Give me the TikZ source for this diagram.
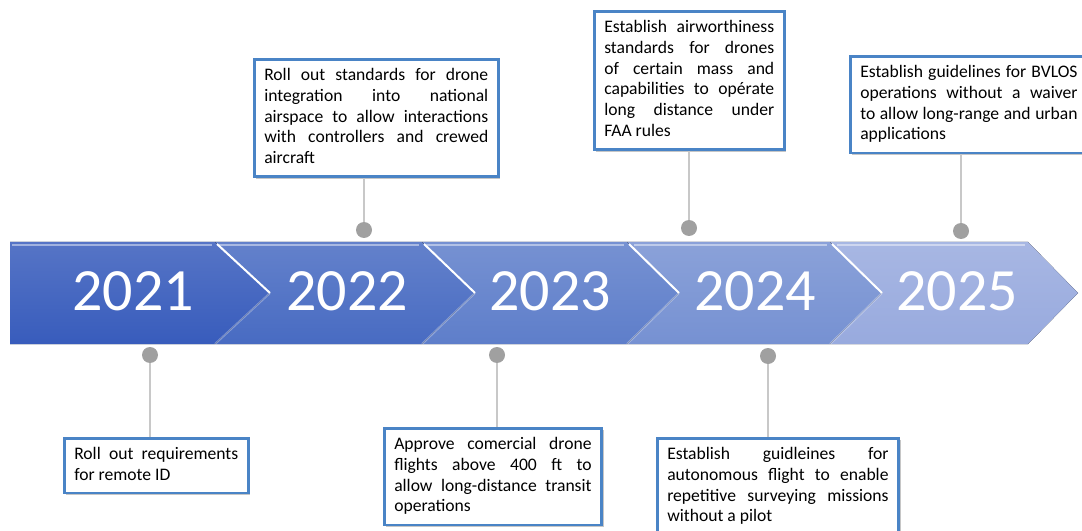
\documentclass[tikz,border=0pt]{standalone}
\usepackage{fontspec}
\setmainfont{Carlito}
\usepackage{xcolor}
\usetikzlibrary{shapes,arrows,shadows,positioning}

\definecolor{segA}{RGB}{56,92,188}
\definecolor{segB}{RGB}{72,107,194}
\definecolor{segC}{RGB}{94,126,202}
\definecolor{segD}{RGB}{118,145,210}
\definecolor{segE}{RGB}{152,170,222}
\definecolor{noteblue}{RGB}{74,132,198}
\definecolor{dotgray}{RGB}{160,160,160}
\definecolor{stemgray}{RGB}{200,200,200}

\newcommand{\notefont}{\fontsize{13.2}{15.6}\selectfont}
\newcommand{\yearfont}{\fontsize{45}{45}\selectfont}

\begin{document}
\begin{tikzpicture}[x=0.75pt, y=-0.75pt]
	% % % % % % % % % % % % % % % % % % % % % % % % % % % % % %
	% Define styles
	\tikzstyle{note} = [rectangle, draw=noteblue, line width=1.9pt, fill=white, anchor=north west,
					    align=justify, inner xsep=7.5pt, inner ysep=5pt, font=\notefont,
					    execute at begin node=\strut, execute at end node=\strut,
					    drop shadow={shadow xshift=1.6pt, shadow yshift=-1.6pt, opacity=0.45, fill=gray}]
	\tikzstyle{year} = [text=white, font=\yearfont, inner sep=0pt]
	\tikzstyle{dot} = [circle, fill=dotgray, minimum size=12pt, inner sep=0pt]
	\tikzstyle{line} = [draw=stemgray, line width=1.1pt]
	\tikzstyle{shine} = [draw=white, line width=1.5pt]

	\path[use as bounding box, clip] (0,0) rectangle (1082,531);

	% % % % % % % % % % % % % % % % % % % % % % % % % % % % % %
	% Chevron band
	\fill[top color=segA!85!white, bottom color=segA] (10,242) -- (215,242) -- (270,293) -- (215,344) -- (10,344) -- cycle;
	\fill[top color=segB!85!white, bottom color=segB] (215,242) -- (422,242) -- (475,293) -- (422,344) -- (215,344) -- (270,293) -- cycle;
	\fill[top color=segC!85!white, bottom color=segC] (422,242) -- (627,242) -- (679,293) -- (627,344) -- (422,344) -- (475,293) -- cycle;
	\fill[top color=segD!85!white, bottom color=segD] (627,242) -- (830,242) -- (882,293) -- (830,344) -- (627,344) -- (679,293) -- cycle;
	\fill[top color=segE!85!white, bottom color=segE] (830,242) -- (1028,242) -- (1078,293) -- (1028,344) -- (830,344) -- (882,293) -- cycle;
	% highlights
	\draw[shine, opacity=0.45] (12,245) -- (212,245) (219,245) -- (419,245) (426,245) -- (624,245) (634,245) -- (827,245) (837,245) -- (1025,245);
	\draw[shine] (217,244) -- (270,293) (424,244) -- (475,293) (629,244) -- (679,293) (832,244) -- (882,293);
	\draw[shine, opacity=0.3] (270,293) -- (215,344) (475,293) -- (422,344) (679,293) -- (627,344) (882,293) -- (830,344);

	% % % % % % % % % % % % % % % % % % % % % % % % % % % % % %
	% Place nodes
	% years
	\node [year] (y21) at (133,291) {2021};
	\node [year] (y22) at (347,291) {2022};
	\node [year] (y23) at (550,291) {2023};
	\node [year] (y24) at (755,291) {2024};
	\node [year] (y25) at (957,291) {2025};

	% milestones above the band
	\node [note, text width=168pt] (nas) at (253,58) {Roll out standards for drone\linebreak integration into national\linebreak airspace to allow interactions\linebreak with controllers and crewed\linebreak aircraft};
	\node [note, text width=127.5pt] (awr) at (593,10) {Establish airworthiness\linebreak standards for drones\linebreak of certain mass and\linebreak capabilities to opérate\linebreak long distance under\linebreak FAA rules};
	\node [note, text width=163pt] (bvl) at (849,55) {Establish guidelines for BVLOS\linebreak operations without a waiver\linebreak to allow long-range and urban\linebreak applications};
	% milestones below the band
	\node [note, text width=123pt] (rid) at (63,437) {Roll out requirements\linebreak for remote ID};
	\node [note, text width=148pt] (cdf) at (383,427) {Approve comercial drone\linebreak flights above 400 ft to\linebreak allow long-distance transit\linebreak operations};
	\node [note, text width=166pt] (aut) at (656,437) {Establish guidleines for\linebreak autonomous flight to enable\linebreak repetitive surveying missions\linebreak without a pilot};

	% pins
	\node [dot] (pnas) at (364,230) {};
	\node [dot] (pawr) at (689,228) {};
	\node [dot] (pbvl) at (961,231) {};
	\node [dot] (prid) at (150,355) {};
	\node [dot] (pcdf) at (497,355) {};
	\node [dot] (paut) at (768,356) {};

	% Draw edges
	\path [line] (pnas) -- (pnas |- nas.south);
	\path [line] (pawr) -- (pawr |- awr.south);
	\path [line] (pbvl) -- (pbvl |- bvl.south);
	% %
	\path [line] (prid) -- (prid |- rid.north);
	\path [line] (pcdf) -- (pcdf |- cdf.north);
	\path [line] (paut) -- (paut |- aut.north);
\end{tikzpicture}
\end{document}
